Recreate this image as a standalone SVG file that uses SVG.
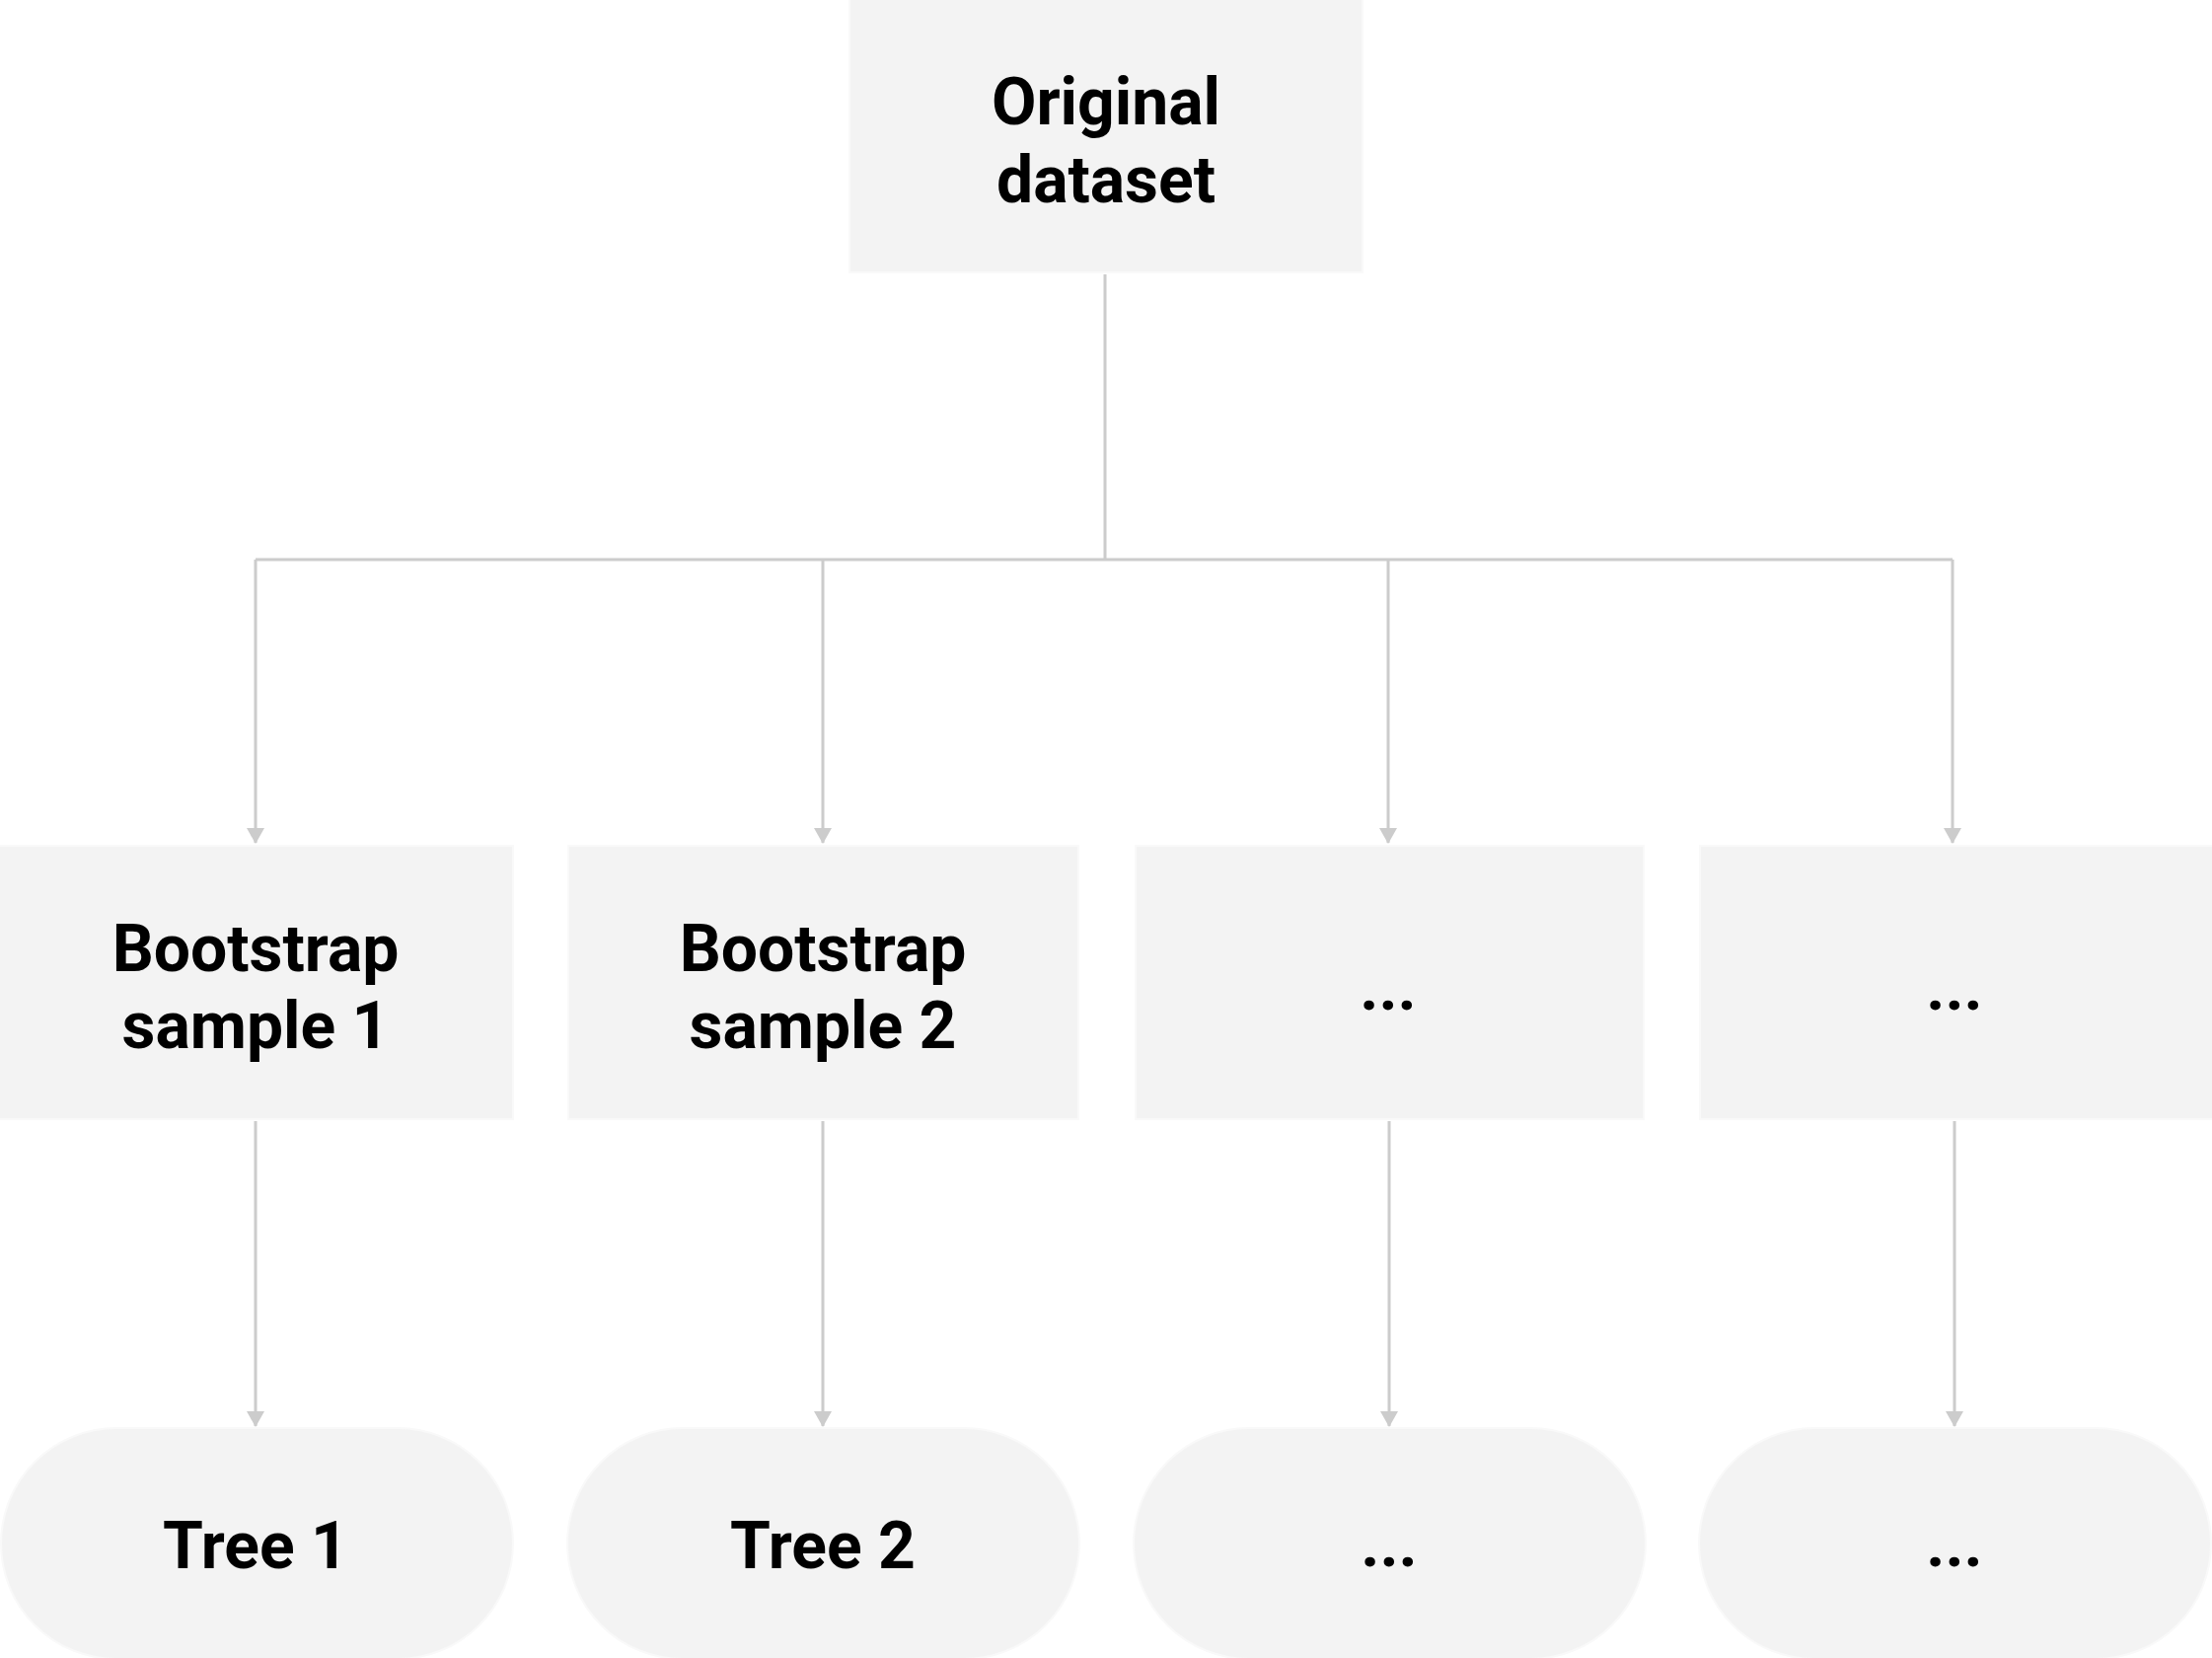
<svg xmlns="http://www.w3.org/2000/svg" width="2242" height="1680" viewBox="0 0 2242 1680">
<style>
.box{fill:#f3f3f3;stroke:#f9f9f9;stroke-width:2}
.lbl{font-family:Roboto,"Liberation Sans",sans-serif;font-weight:bold;font-size:66px;fill:#000;text-anchor:middle}
.con{fill:none;stroke:#cccccc;stroke-width:3}
.arr{fill:none;stroke:#cccccc;stroke-width:3;marker-end:url(#ah)}
</style>
<defs>
<marker id="ah" viewBox="0 0 16 18" refX="15" refY="9" markerWidth="16" markerHeight="18" markerUnits="userSpaceOnUse" orient="auto">
<path d="M0,0 L16,9 L0,18 z" fill="#cccccc"/>
</marker>
</defs>
<rect width="2242" height="1680" fill="#ffffff"/>
<g id="connectors">
<path class="con" d="M1120,278 V567"/>
<path class="con" d="M259,567 H1979"/>
<path class="arr" d="M259,567 V854"/>
<path class="arr" d="M834,567 V854"/>
<path class="arr" d="M1407,567 V854"/>
<path class="arr" d="M1979,567 V854"/>
<path class="arr" d="M259,1136 V1445"/>
<path class="arr" d="M834,1136 V1445"/>
<path class="arr" d="M1408,1136 V1445"/>
<path class="arr" d="M1981,1136 V1445"/>
</g>
<g id="original">
<rect class="box" x="861" y="-2" width="520" height="278"/>
<text class="lbl" x="1121" y="126">Original</text>
<text class="lbl" x="1121" y="205">dataset</text>
</g>
<g id="sample1">
<rect class="box" x="-2" y="857" width="522" height="277"/>
<text class="lbl" x="259" y="984">Bootstrap</text>
<text class="lbl" x="259" y="1062">sample 1</text>
</g>
<g id="sample2">
<rect class="box" x="576" y="857" width="517" height="277"/>
<text class="lbl" x="834" y="984">Bootstrap</text>
<text class="lbl" x="834" y="1062">sample 2</text>
</g>
<g id="sample3">
<rect class="box" x="1151" y="857" width="515" height="277"/>
<text class="lbl" x="1407" y="1023">...</text>
</g>
<g id="sample4">
<rect class="box" x="1723" y="857" width="521" height="277"/>
<text class="lbl" x="1981" y="1023">...</text>
</g>
<g id="tree1">
<rect class="box" x="1" y="1447" width="519" height="234" rx="117" ry="117"/>
<text class="lbl" x="259" y="1589">Tree 1</text>
</g>
<g id="tree2">
<rect class="box" x="575" y="1447" width="519" height="234" rx="117" ry="117"/>
<text class="lbl" x="834" y="1589">Tree 2</text>
</g>
<g id="tree3">
<rect class="box" x="1149" y="1447" width="519" height="234" rx="117" ry="117"/>
<text class="lbl" x="1408" y="1587">...</text>
</g>
<g id="tree4">
<rect class="box" x="1722" y="1447" width="519" height="234" rx="117" ry="117"/>
<text class="lbl" x="1981" y="1587">...</text>
</g>
</svg>
